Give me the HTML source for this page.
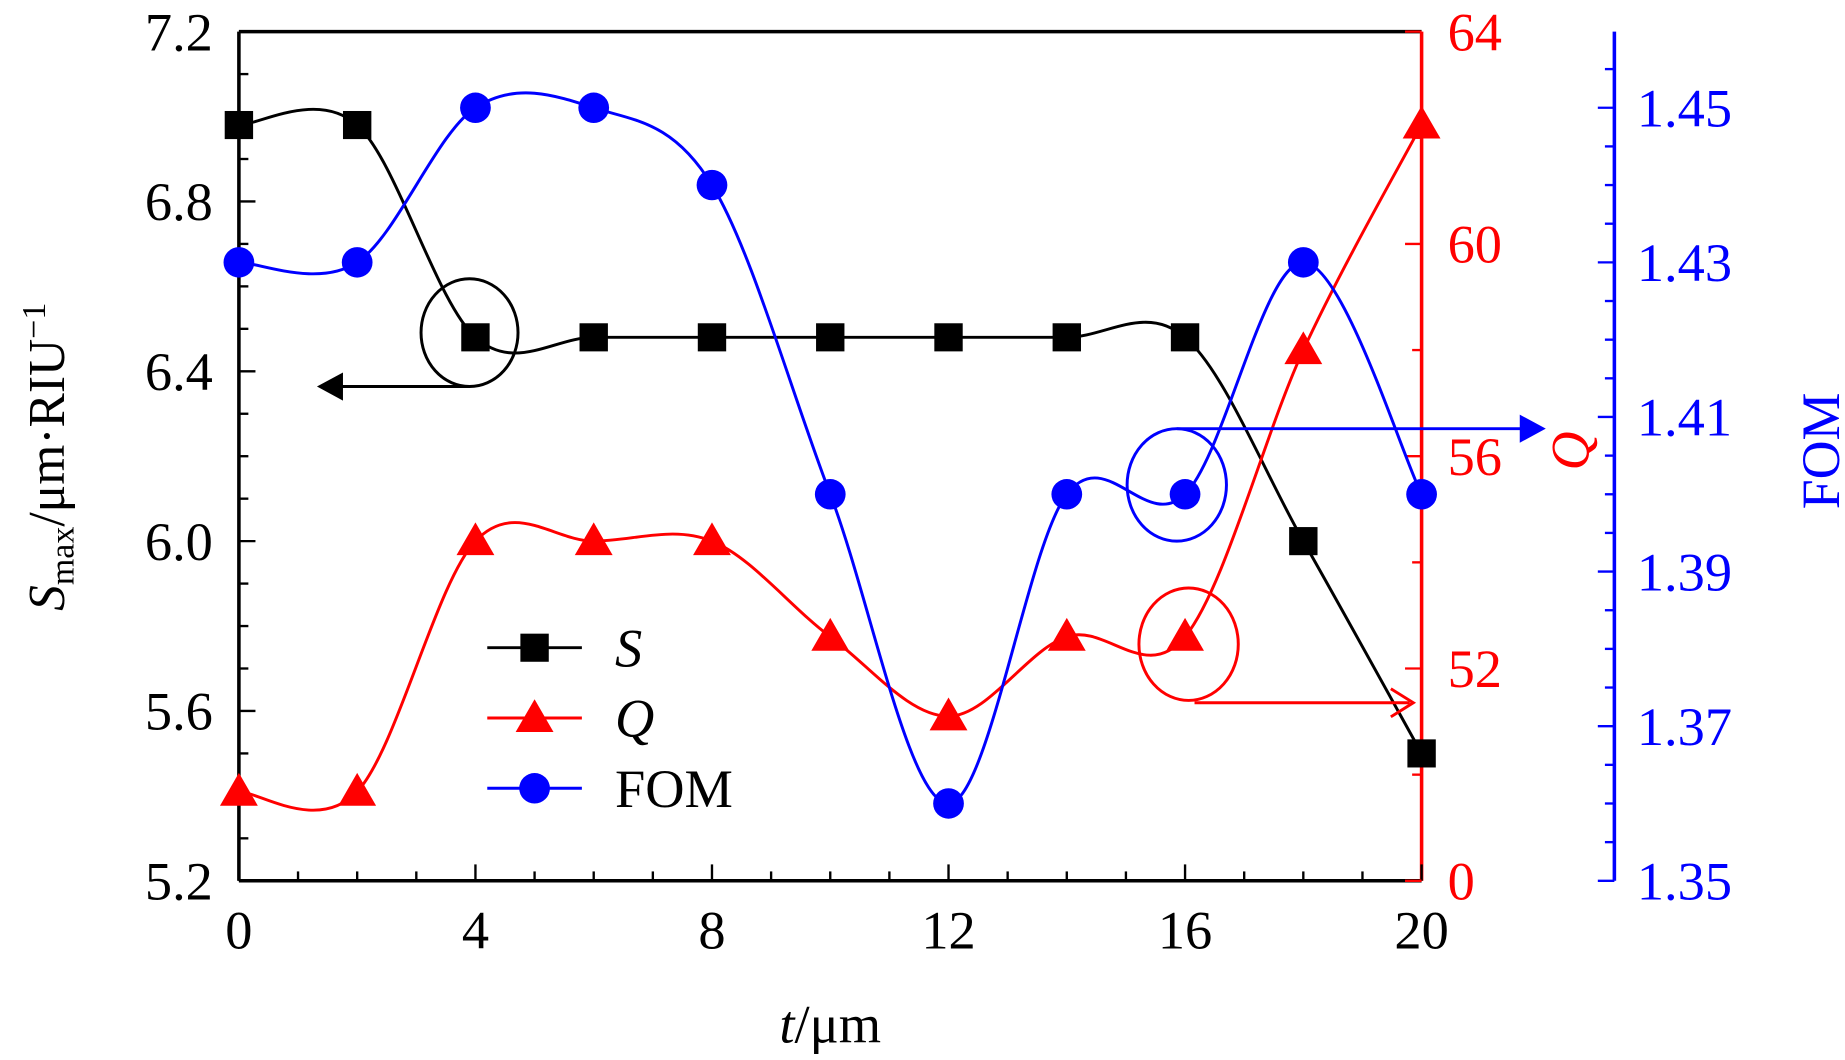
<!DOCTYPE html>
<html><head><meta charset="utf-8"><style>
html,body{margin:0;padding:0;background:#fff;}
svg{display:block;}
text{font-family:"Liberation Serif",serif;}
</style></head><body>
<svg id="chart" width="1845" height="1060" viewBox="0 0 1560 905" preserveAspectRatio="none" xmlns="http://www.w3.org/2000/svg">
<g id="grid"></g>
<g id="series"></g>
<g id="annot"></g>
<g id="labels"></g>
</svg>
<script>
const tValues = [0,2,4,6,8,10,12,14,16,18,20];
const sValues = [6.98,6.98,6.48,6.48,6.48,6.48,6.48,6.48,6.48,6.00,5.50];
const qValues = [49.68,49.68,54.4,54.4,54.4,52.6,51.1,52.6,52.6,58.0,62.25];
const fomValues = [1.43,1.43,1.45,1.45,1.44,1.40,1.36,1.40,1.40,1.43,1.40];
const xTicks = [0,4,8,12,16,20];
const sTicks = ["5.2","5.6","6.0","6.4","6.8","7.2"];
const qTicks = [48,52,56,60,64];
const qTickLabels = ["0","52","56","60","64"];
const fomTicks = ["1.35","1.37","1.39","1.41","1.43","1.45"];

const NS="http://www.w3.org/2000/svg";
const L=202,R=1202,T=27,B=752;
const xS=t=>L+(t-0)*(R-L)/20;
const yS=v=>B-(v-5.2)*(B-T)/2.0;
const yQ=v=>B-(v-48)*(B-T)/16;
const yF=v=>B-(v-1.35)*6600;
function mk(tag,attrs,parent,name,txt){const e=document.createElementNS(NS,tag);for(const k in attrs)e.setAttribute(k,attrs[k]);


if(txt!==undefined)e.textContent=txt;document.getElementById(parent).appendChild(e);return e;}

mk('line',{x1:L,y1:T,x2:R,y2:T,stroke:'#000','stroke-width':3},'grid','top-spine');
mk('line',{x1:L,y1:T,x2:L,y2:B,stroke:'#000','stroke-width':3},'grid','left-spine');
mk('line',{x1:L,y1:B,x2:R,y2:B,stroke:'#000','stroke-width':3},'grid','bottom-spine');
mk('line',{x1:R,y1:T,x2:R,y2:B,stroke:'#f00','stroke-width':3},'grid','q-spine');
mk('line',{x1:1365,y1:T,x2:1365,y2:B,stroke:'#00f','stroke-width':3},'grid','fom-spine');
for(let t=0;t<=20;t++){const maj=t%4===0;mk('line',{x1:xS(t),y1:B,x2:xS(t),y2:B-(maj?14:8),stroke:'#000','stroke-width':2},'grid','x-tick');}
xTicks.forEach(t=>mk('text',{x:xS(t),y:810,'text-anchor':'middle','font-size':46},'labels','x-tick-label',String(t)));
for(let i=0;i<=20;i++){const v=5.2+i*0.1;const maj=i%4===0;mk('line',{x1:L,y1:yS(v),x2:L+(maj?14:8),y2:yS(v),stroke:'#000','stroke-width':2},'grid','y-tick');}
sTicks.forEach(s=>mk('text',{x:180,y:yS(+s)+16,'text-anchor':'end','font-size':46},'labels','y-tick-label',s));
for(let v=48;v<=64;v+=2){const maj=v%4===0;mk('line',{x1:R,y1:yQ(v),x2:R-(maj?14:8),y2:yQ(v),stroke:'#f00','stroke-width':2},'grid','q-tick');}
qTicks.forEach((v,i)=>mk('text',{x:1224,y:yQ(v)+16,'font-size':46,fill:'#f00'},'labels','q-tick-label',qTickLabels[i]));
for(let i=0;i<=21;i++){const v=1.35+i*0.005;const y=yF(v);if(y<T-1)break;const maj=i%4===0;mk('line',{x1:1365,y1:y,x2:1365-(maj?14:8),y2:y,stroke:'#00f','stroke-width':2},'grid','fom-tick');}
fomTicks.forEach(s=>mk('text',{x:1384,y:yF(+s)+16,'font-size':46,fill:'#00f'},'labels','fom-tick-label',s));

function spline(pts){let d=`M${pts[0][0]},${pts[0][1]}`;for(let i=0;i<pts.length-1;i++){const p0=pts[Math.max(0,i-1)],p1=pts[i],p2=pts[i+1],p3=pts[Math.min(pts.length-1,i+2)];
const c1=[p1[0]+(p2[0]-p0[0])/6,p1[1]+(p2[1]-p0[1])/6],c2=[p2[0]-(p3[0]-p1[0])/6,p2[1]-(p3[1]-p1[1])/6];
d+=` C${c1[0]},${c1[1]} ${c2[0]},${c2[1]} ${p2[0]},${p2[1]}`;}return d;}
function marker(type,x,y,col,name){
 if(type==='sq')mk('rect',{x:x-12,y:y-12,width:24,height:24,fill:col},'series',name);
 else if(type==='ci')mk('circle',{cx:x,cy:y,r:13,fill:col},'series',name);
 else mk('polygon',{points:`${x},${y-16} ${x-16},${y+12} ${x+16},${y+12}`,fill:col},'series',name);}
const sets=[[sValues,yS,'#000','sq','s'],[qValues,yQ,'#f00','tri','q'],[fomValues,yF,'#00f','ci','fom']];
sets.forEach(([vals,ys,col,m,n])=>{const pts=tValues.map((t,i)=>[xS(t),ys(vals[i])]);
 mk('path',{d:spline(pts),fill:'none',stroke:col,'stroke-width':2.5},'series',n+'-line');});
sets.forEach(([vals,ys,col,m,n])=>{tValues.forEach((t,i)=>marker(m,xS(t),ys(vals[i]),col,n+'-point'));});

mk('ellipse',{cx:397,cy:284,rx:41,ry:46,fill:'none',stroke:'#000','stroke-width':2.5},'annot','s-circle');
mk('line',{x1:397,y1:330,x2:285,y2:330,stroke:'#000','stroke-width':2.5},'annot','s-arrow');
mk('polygon',{points:'268,330 290,318 290,342',fill:'#000'},'annot','s-arrowhead');
mk('ellipse',{cx:995,cy:414,rx:42,ry:48,fill:'none',stroke:'#00f','stroke-width':2.5},'annot','fom-circle');
mk('line',{x1:995,y1:366,x2:1290,y2:366,stroke:'#00f','stroke-width':2.5},'annot','fom-arrow');
mk('polygon',{points:'1307,366 1285,354 1285,378',fill:'#00f'},'annot','fom-arrowhead');
mk('ellipse',{cx:1005,cy:550,rx:42,ry:48,fill:'none',stroke:'#f00','stroke-width':2.5},'annot','q-circle');
mk('line',{x1:1010,y1:600,x2:1192,y2:600,stroke:'#f00','stroke-width':2.5},'annot','q-arrow');
mk('polyline',{points:'1176,588 1195,600 1176,612',fill:'none',stroke:'#f00','stroke-width':2.5},'annot','q-arrowhead');

const leg=[['sq','#000','S',553,true],['tri','#f00','Q',613,true],['ci','#00f','FOM',673,false]];
leg.forEach(([m,col,lab,y,it])=>{mk('line',{x1:412,y1:y,x2:492,y2:y,stroke:col,'stroke-width':2.5},'series','legend-line');
 marker(m,452,y,col,'legend-marker');
 mk('text',{x:520,y:y+16,'font-size':46,'font-style':it?'italic':'normal'},'labels','legend-label',lab);});

const yt=mk('text',{x:0,y:0,'font-size':44,transform:'translate(54,390) rotate(-90)','text-anchor':'middle'},'labels','y-axis-title');
yt.innerHTML='<tspan font-style="italic">S</tspan><tspan font-size="29" dy="8">max</tspan><tspan dy="-8">/μm·RIU</tspan><tspan font-size="29" dy="-16">−1</tspan>';
mk('text',{x:0,y:0,'font-size':46,'font-style':'italic',fill:'#f00',transform:'translate(1343,385) rotate(-90)','text-anchor':'middle'},'labels','q-axis-title','Q');
mk('text',{x:0,y:0,'font-size':46,fill:'#00f',transform:'translate(1555,385) rotate(-90)','text-anchor':'middle'},'labels','fom-axis-title','FOM');
const xt=mk('text',{x:702,y:890,'font-size':46,'text-anchor':'middle'},'labels','x-axis-title');
xt.innerHTML='<tspan font-style="italic">t</tspan>/μm';
</script>
</body></html>
